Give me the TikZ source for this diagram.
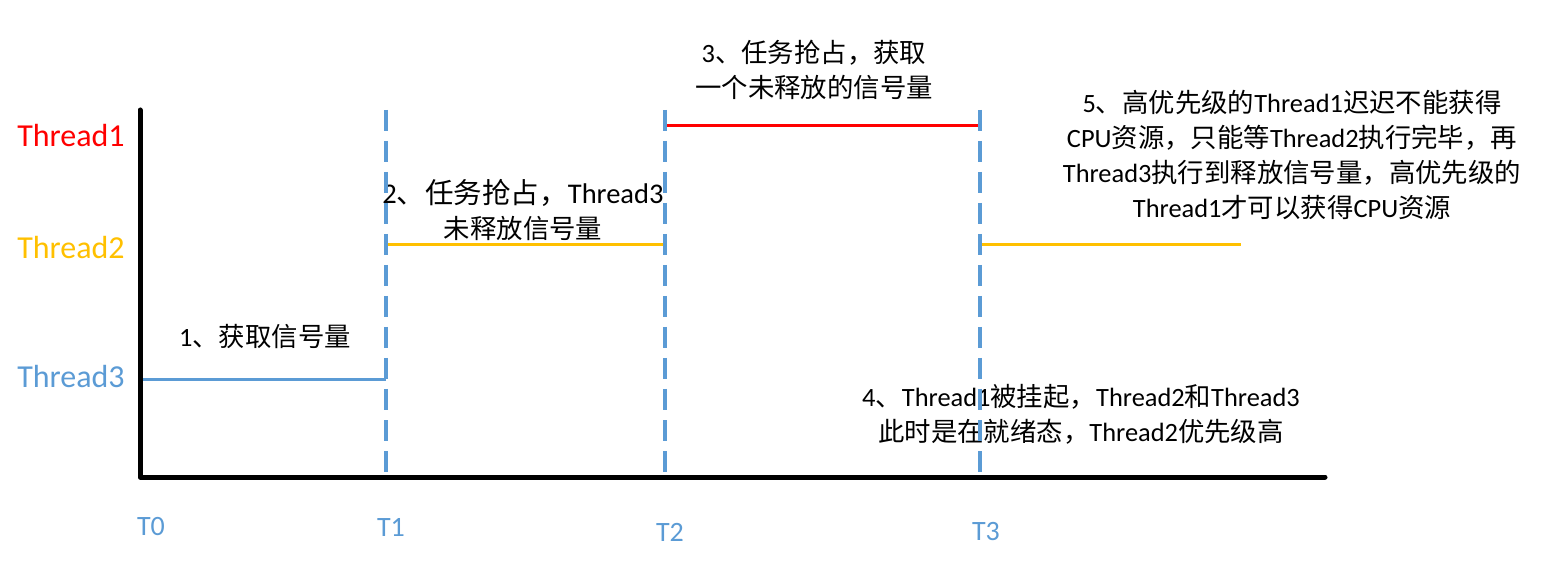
\documentclass[tikz,border=0pt]{standalone}
\usepackage{fontspec}
\setmainfont{Carlito}
\newfontfamily\cjk{Noto Sans CJK SC}
\newcommand{\zh}[1]{{\cjk #1}}
\definecolor{tred}{HTML}{FF0000}
\definecolor{torange}{HTML}{FFC000}
\definecolor{tblue}{HTML}{5B9BD5}
\begin{document}
\begin{tikzpicture}[x=1pt,y=-1pt,
  axisline/.style={line width=5pt,black,line join=round,line cap=round},
  dashline/.style={line width=3.4pt,tblue,dash pattern=on 21pt off 10pt},
  runline/.style={line width=3pt},
  tlabel/.style={font=\fontsize{32}{38}\selectfont,inner sep=0pt,anchor=center},
  timelabel/.style={font=\fontsize{28}{34}\selectfont,text=tblue,inner sep=0pt,anchor=center},
  note/.style={font=\fontsize{26.4}{35}\selectfont,inner sep=0pt,align=center,anchor=center,text=black}]
\path[use as bounding box] (0,0) rectangle (1543,561);
% coordinates
\coordinate (O) at (140,477);
\coordinate (ytop) at (140,110);
\coordinate (xend) at (1325,477);
\coordinate (d1t) at (386,110); \coordinate (d1b) at (386,477);
\coordinate (d2t) at (665,110); \coordinate (d2b) at (665,477);
\coordinate (d3t) at (980,110); \coordinate (d3b) at (980,477);
\coordinate (r3a) at (140,380); \coordinate (r3b) at (386,380);
\coordinate (r2a) at (386,245); \coordinate (r2b) at (665,245);
\coordinate (r2c) at (980,245); \coordinate (r2d) at (1241,245);
\coordinate (r1a) at (665,126); \coordinate (r1b) at (980,126);
% thread labels
\node[tlabel,text=tred] (l1) at (71,136) {Thread1};
\node[tlabel,text=torange] (l2) at (71,248) {Thread2};
\node[tlabel,text=tblue] (l3) at (71,377) {Thread3};
% time labels
\node[timelabel] (T0) at (151,527) {T0};
\node[timelabel] (T1) at (391,527) {T1};
\node[timelabel] (T2) at (670,532) {T2};
\node[timelabel] (T3) at (986,532) {T3};
% notes
\node[note] (n1) at (265,337) {1\zh{、获取信号量}};
\node[note] (n2) at (523,210) {{\fontsize{28.5}{35}\selectfont 2\zh{、任务抢占，}Thread3}\\\zh{未释放信号量}};
\node[note] (n3) at (814,70) {3\zh{、任务抢占，获取}\\\zh{一个未释放的信号量}};
\node[note] (n4) at (1081,414) {4\zh{、}Thread1\zh{被挂起，}Thread2\zh{和}Thread3\\\zh{此时是在就绪态，}Thread2\zh{优先级高}};
\node[note] (n5) at (1292,155) {5\zh{、高优先级的}Thread1\zh{迟迟不能获得}\\CPU\zh{资源，只能等}Thread2\zh{执行完毕，再}\\Thread3\zh{执行到释放信号量，高优先级的}\\Thread1\zh{才可以获得}CPU\zh{资源}};
% run lines
\draw[runline,tblue] (r3a) -- (r3b);
\draw[runline,torange] (r2a) -- (r2b);
\draw[runline,torange] (r2c) -- (r2d);
\draw[runline,tred] (r1a) -- (r1b);
% dashed lines
\draw[dashline] (d1t) -- (d1b);
\draw[dashline] (d2t) -- (d2b);
\draw[dashline] (d3t) -- (d3b);
% axes
\draw[axisline] (ytop) -- (O) -- (xend);
\end{tikzpicture}
\end{document}
